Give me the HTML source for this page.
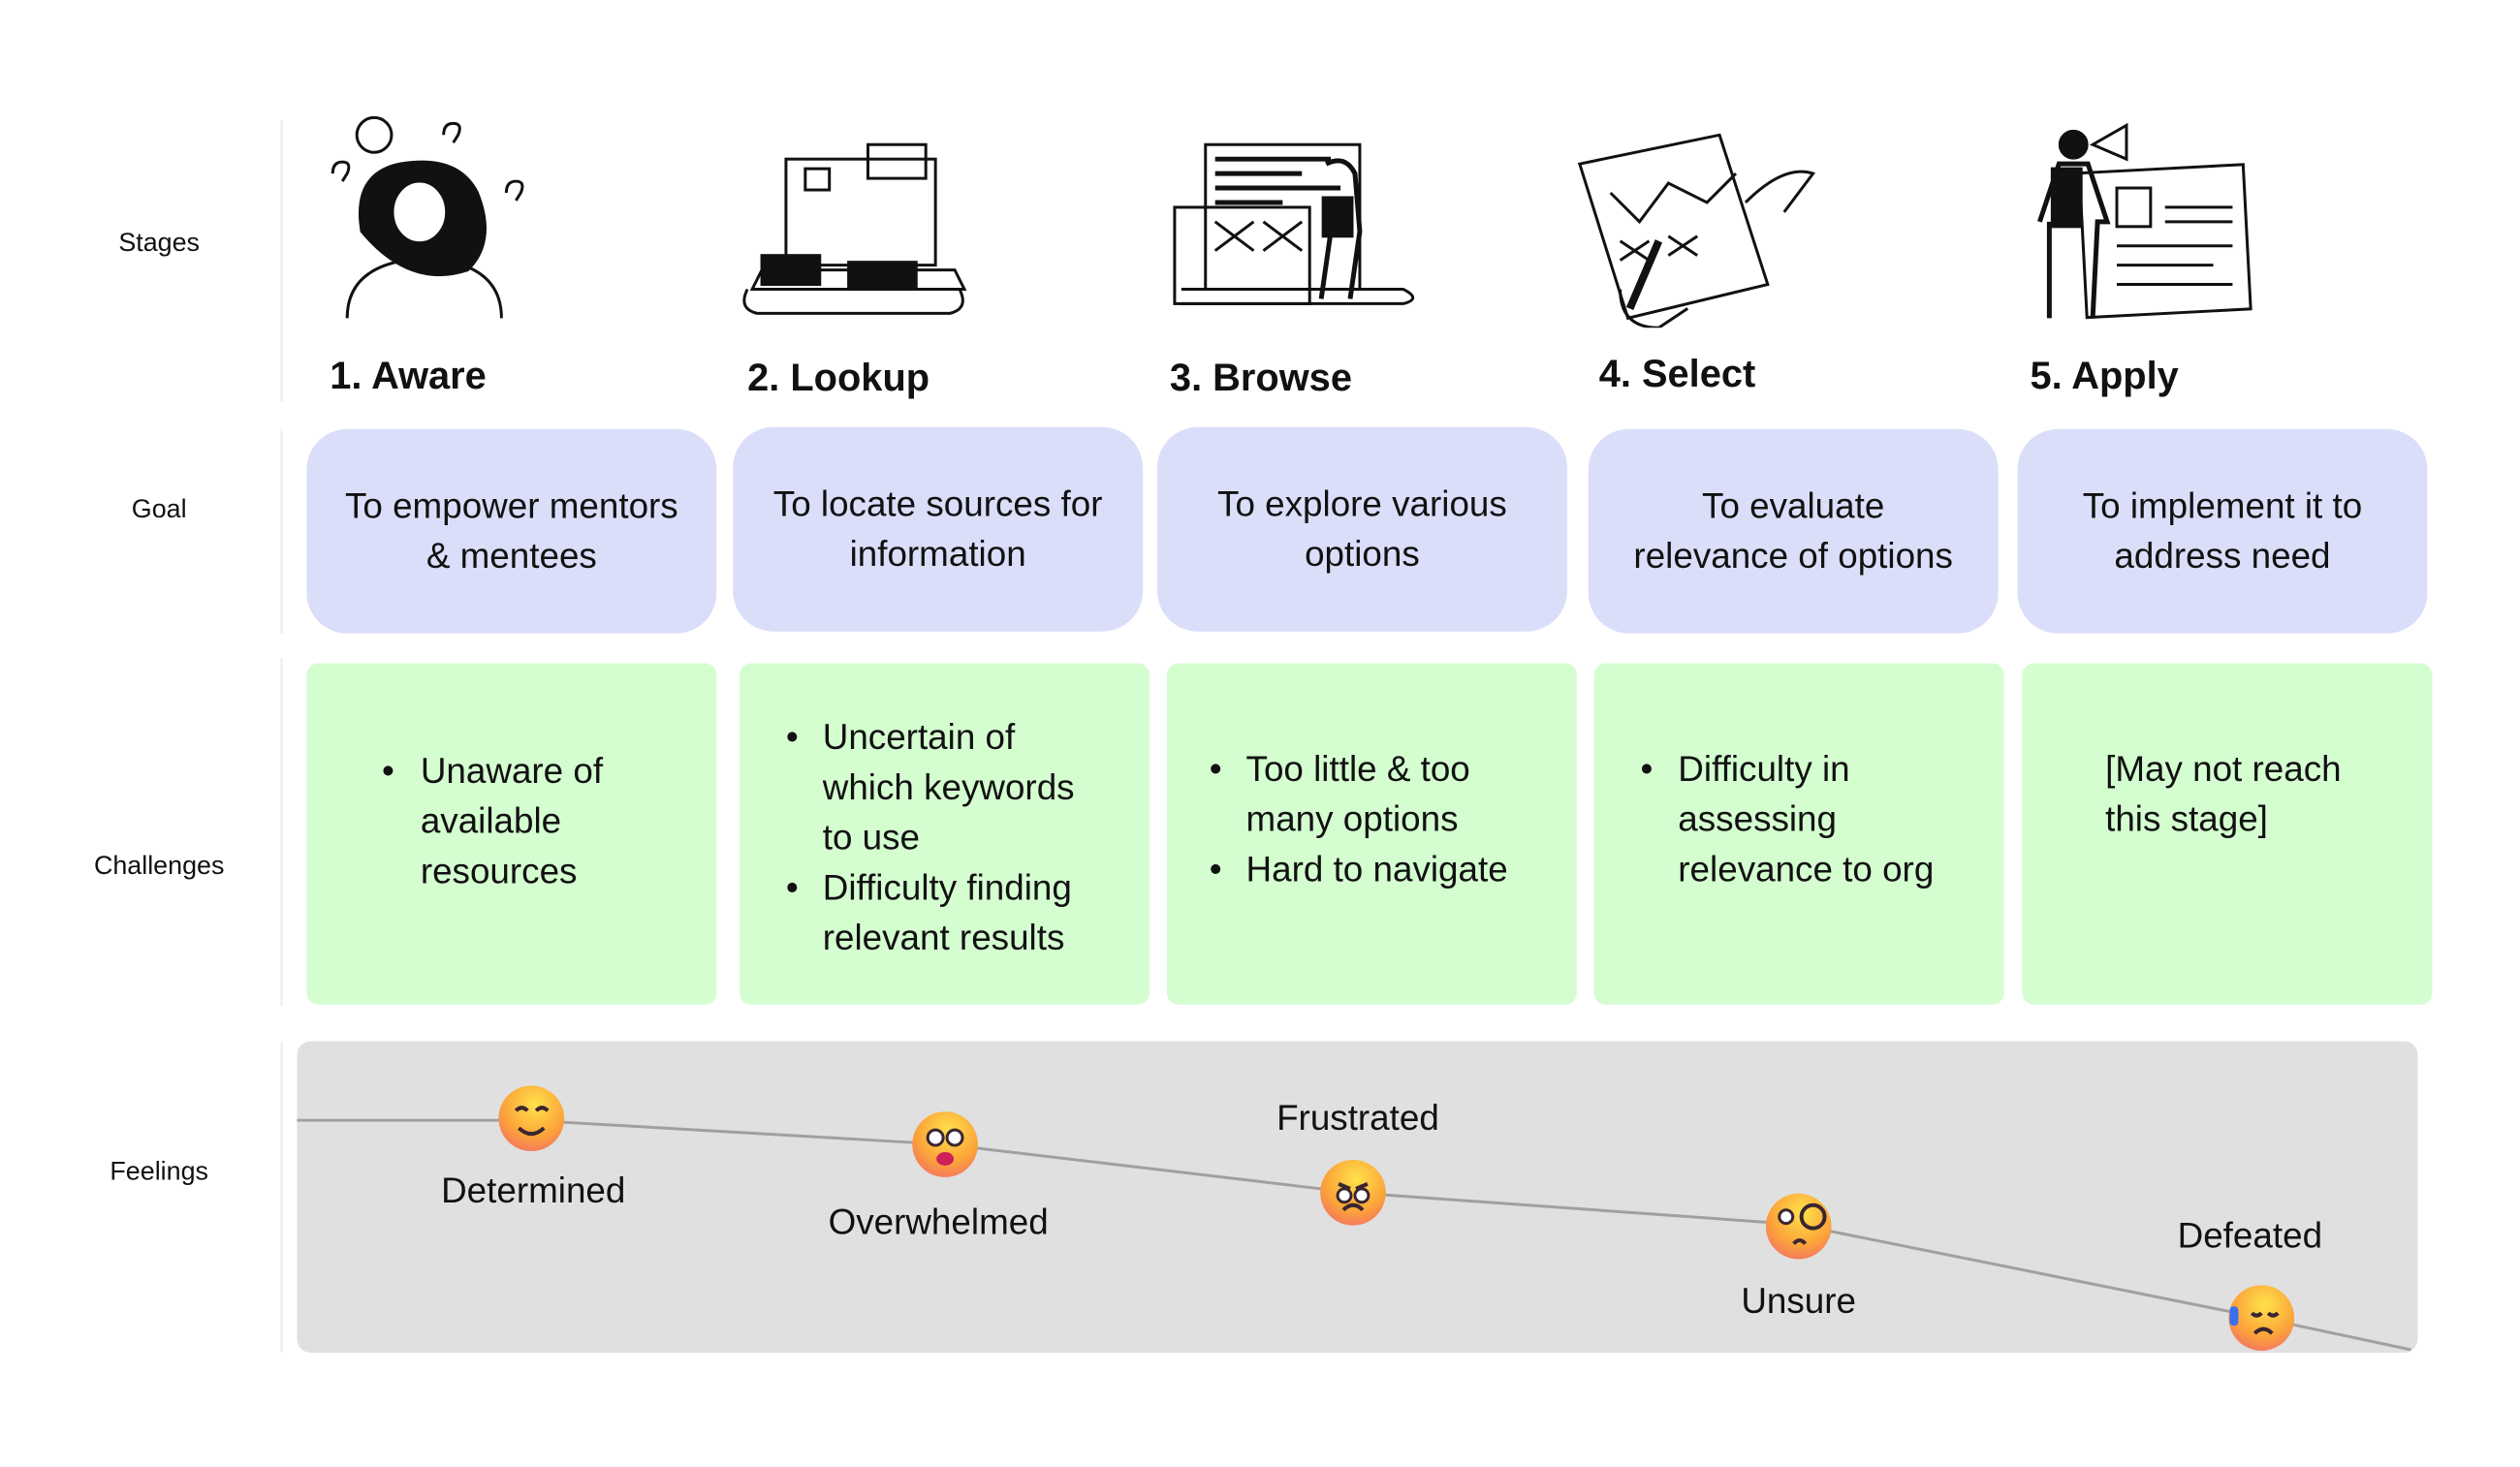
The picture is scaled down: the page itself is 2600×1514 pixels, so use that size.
<!DOCTYPE html>
<html><head><meta charset="utf-8"><style>
html,body{margin:0;padding:0;background:#fff;}
#o{position:relative;width:2600px;height:1514px;overflow:hidden;}
#c{position:absolute;left:0;top:0;width:2600px;height:1514px;transform:scale(0.995);transform-origin:0 0;font-family:"Liberation Sans",sans-serif;color:#111;}
.a{position:absolute;}
.lab{position:absolute;font-size:27px;transform:translate(-50%,-50%);white-space:nowrap;}
.vl{position:absolute;left:291px;width:2px;background:#ececec;}
.st{position:absolute;font-size:40px;font-weight:bold;white-space:nowrap;line-height:1;}
.goal{position:absolute;background:#dadef9;border-radius:42px;height:212px;width:425px;display:flex;align-items:center;justify-content:center;text-align:center;font-size:37px;line-height:52px;}
.ch{position:absolute;background:#d4fdd0;border-radius:12px;height:354px;width:425px;font-size:37px;line-height:52px;}
.ch .t{position:absolute;white-space:nowrap;}
.ch .b{position:absolute;}
.fl{position:absolute;font-size:37px;transform:translate(-50%,-50%);white-space:nowrap;}
</style></head><body><div id="o"><div id="c">
<div class="vl" style="top:125px;height:292px"></div>
<div class="vl" style="top:445px;height:213px"></div>
<div class="vl" style="top:683px;height:360px"></div>
<div class="vl" style="top:1080px;height:323px"></div>

<div class="lab" style="left:165px;top:252px">Stages</div>
<div class="lab" style="left:165px;top:528px">Goal</div>
<div class="lab" style="left:165px;top:898px">Challenges</div>
<div class="lab" style="left:165px;top:1215px">Feelings</div>

<svg class="a" style="left:0;top:0" width="2600" height="340" fill="none" stroke="#111" stroke-width="3">
 <path d="M375 240 q-10-60 40-70 q60-10 80 30 q20 50-10 80 q-60 20-110-40z" fill="#111"/>
 <ellipse cx="435" cy="220" rx="28" ry="32" fill="#fff"/>
 <path d="M360 330 q0-50 60-60 l40 0 q60 10 60 60"/>
 <circle cx="388" cy="140" r="18"/><path d="M345 180 q0-12 10-12 q10 0 5 12 l-5 8"/><path d="M460 140 q0-12 10-12 q10 0 5 12 l-5 8"/><path d="M525 200 q0-12 10-12 q10 0 5 12 l-5 8"/>
 <path d="M780 300 l220 0 l-10 -20 l-200 0 z"/><rect x="815" y="165" width="155" height="110"/><rect x="835" y="175" width="25" height="22"/>
 <rect x="900" y="150" width="60" height="35"/><path d="M775 300 q-10 20 10 25 l200 0 q20-5 10-25"/>
 <rect x="790" y="265" width="60" height="30" fill="#111"/><rect x="880" y="272" width="70" height="25" fill="#111"/>
 <rect x="1250" y="150" width="160" height="150"/><rect x="1218" y="215" width="140" height="100"/>
 <path d="M1225 300 l230 0 q20 10 0 15 l-230 0"/><path d="M1260 230 l40 30 M1300 230 l-40 30 M1310 230 l40 30 M1350 230 l-40 30"/>
 <path d="M1260 165 l120 0 M1260 180 l90 0 M1260 195 l130 0 M1260 210 l70 0" stroke-width="5"/>
 <path d="M1375 170 q20-10 30 10 l5 60 l-10 70 M1380 240 l-10 70" stroke-width="5"/><rect x="1372" y="205" width="30" height="40" fill="#111"/>
 <path d="M1638 170 l145 -30 l50 155 l-145 35 z"/><path d="M1670 200 l30 30 l30 -40 l40 20 l30 -30"/>
 <path d="M1680 250 l30 20 M1710 250 l-30 20 M1730 245 l30 20 M1760 245 l-30 20"/>
 <path d="M1810 210 q40-40 70 -30 l-30 40"/><path d="M1690 320 l30 -70" stroke-width="8"/><path d="M1680 300 q0 40 40 40 l30 -20"/>
 <rect x="2160" y="175" width="170" height="150" transform="rotate(-3 2245 250)"/><rect x="2195" y="195" width="35" height="40"/>
 <path d="M2245 215 l70 0 M2245 230 l70 0 M2195 255 l120 0 M2195 275 l100 0 M2195 295 l120 0"/>
 <circle cx="2150" cy="150" r="14" fill="#111"/><path d="M2115 230 l20 -60 l30 0 l20 60 l-10 0 l-5 100 M2125 230 l0 100" stroke-width="5"/>
 <rect x="2128" y="175" width="30" height="60" fill="#111"/><path d="M2170 150 l35 -20 l0 35 z"/>
</svg>

<div class="st" style="left:342px;top:370px">1. Aware</div>
<div class="st" style="left:775px;top:372px">2. Lookup</div>
<div class="st" style="left:1213px;top:372px">3. Browse</div>
<div class="st" style="left:1658px;top:368px">4. Select</div>
<div class="st" style="left:2105px;top:370px">5. Apply</div>

<div class="goal" style="left:318px;top:445px">To empower mentors<br>&amp; mentees</div>
<div class="goal" style="left:760px;top:443px">To locate sources for<br>information</div>
<div class="goal" style="left:1200px;top:443px">To explore various<br>options</div>
<div class="goal" style="left:1647px;top:445px">To evaluate<br>relevance of options</div>
<div class="goal" style="left:2092px;top:445px">To implement it to<br>address need</div>

<div class="ch" style="left:318px;top:688px">
 <div class="b" style="left:78px;top:86px">•</div>
 <div class="t" style="left:118px;top:86px">Unaware of<br>available<br>resources</div>
</div>
<div class="ch" style="left:767px;top:688px">
 <div class="b" style="left:48px;top:51px">•</div>
 <div class="t" style="left:86px;top:51px">Uncertain of<br>which keywords<br>to use</div>
 <div class="b" style="left:48px;top:207px">•</div>
 <div class="t" style="left:86px;top:207px">Difficulty finding<br>relevant results</div>
</div>
<div class="ch" style="left:1210px;top:688px">
 <div class="b" style="left:44px;top:84px">•</div>
 <div class="t" style="left:82px;top:84px">Too little &amp; too<br>many options</div>
 <div class="b" style="left:44px;top:188px">•</div>
 <div class="t" style="left:82px;top:188px">Hard to navigate</div>
</div>
<div class="ch" style="left:1653px;top:688px">
 <div class="b" style="left:48px;top:84px">•</div>
 <div class="t" style="left:87px;top:84px">Difficulty in<br>assessing<br>relevance to org</div>
</div>
<div class="ch" style="left:2097px;top:688px">
 <div class="t" style="left:86px;top:84px">[May not reach<br>this stage]</div>
</div>

<div class="a" style="left:308px;top:1080px;width:2199px;height:323px;background:#e0e0e0;border-radius:14px"></div>
<svg class="a" style="left:0;top:0" width="2600" height="1514">
 <defs><radialGradient id="g" cx="0.55" cy="0.3" r="0.8"><stop offset="0" stop-color="#ffe24a"/><stop offset="0.6" stop-color="#fba33a"/><stop offset="1" stop-color="#f46a6a"/></radialGradient></defs>
 <polyline points="308,1162 550,1162 980,1187 1403,1237 1863,1270 2345,1367 2500,1400" fill="none" stroke="#a0a0a0" stroke-width="3"/>
 <g fill="url(#g)">
  <circle cx="551" cy="1160" r="34"/><circle cx="980" cy="1187" r="34"/><circle cx="1403" cy="1237" r="34"/><circle cx="1865" cy="1272" r="34"/><circle cx="2345" cy="1367" r="34"/>
 </g>
 <g fill="none" stroke="#3a2530" stroke-width="4">
  <path d="M535 1152 q6-6 12 0 M556 1152 q6-6 12 0 M538 1170 q13 12 26 0"/>
  <path d="M1388 1228 l12 5 M1418 1228 l-12 5 M1393 1255 q10-10 20 0"/>
  <path d="M1860 1290 q6-7 12 0"/><circle cx="1880" cy="1262" r="12"/>
  <path d="M2335 1362 q5 5 10 0 M2352 1362 q5 5 10 0 M2338 1383 q9-9 18 0"/>
 </g>
 <g fill="#fff" stroke="#3a2530" stroke-width="3">
  <circle cx="970" cy="1180" r="8"/><circle cx="990" cy="1180" r="8"/>
  <circle cx="1394" cy="1240" r="7"/><circle cx="1412" cy="1240" r="7"/>
  <circle cx="1852" cy="1262" r="7"/>
 </g>
 <ellipse cx="980" cy="1202" rx="9" ry="7" fill="#d0205a"/>
 <rect x="2312" y="1355" width="9" height="20" rx="4" fill="#3a6ff0"/>
</svg>
<div class="fl" style="left:553px;top:1235px">Determined</div>
<div class="fl" style="left:973px;top:1268px">Overwhelmed</div>
<div class="fl" style="left:1408px;top:1160px">Frustrated</div>
<div class="fl" style="left:1865px;top:1350px">Unsure</div>
<div class="fl" style="left:2333px;top:1282px">Defeated</div>
</div></div></body></html>
